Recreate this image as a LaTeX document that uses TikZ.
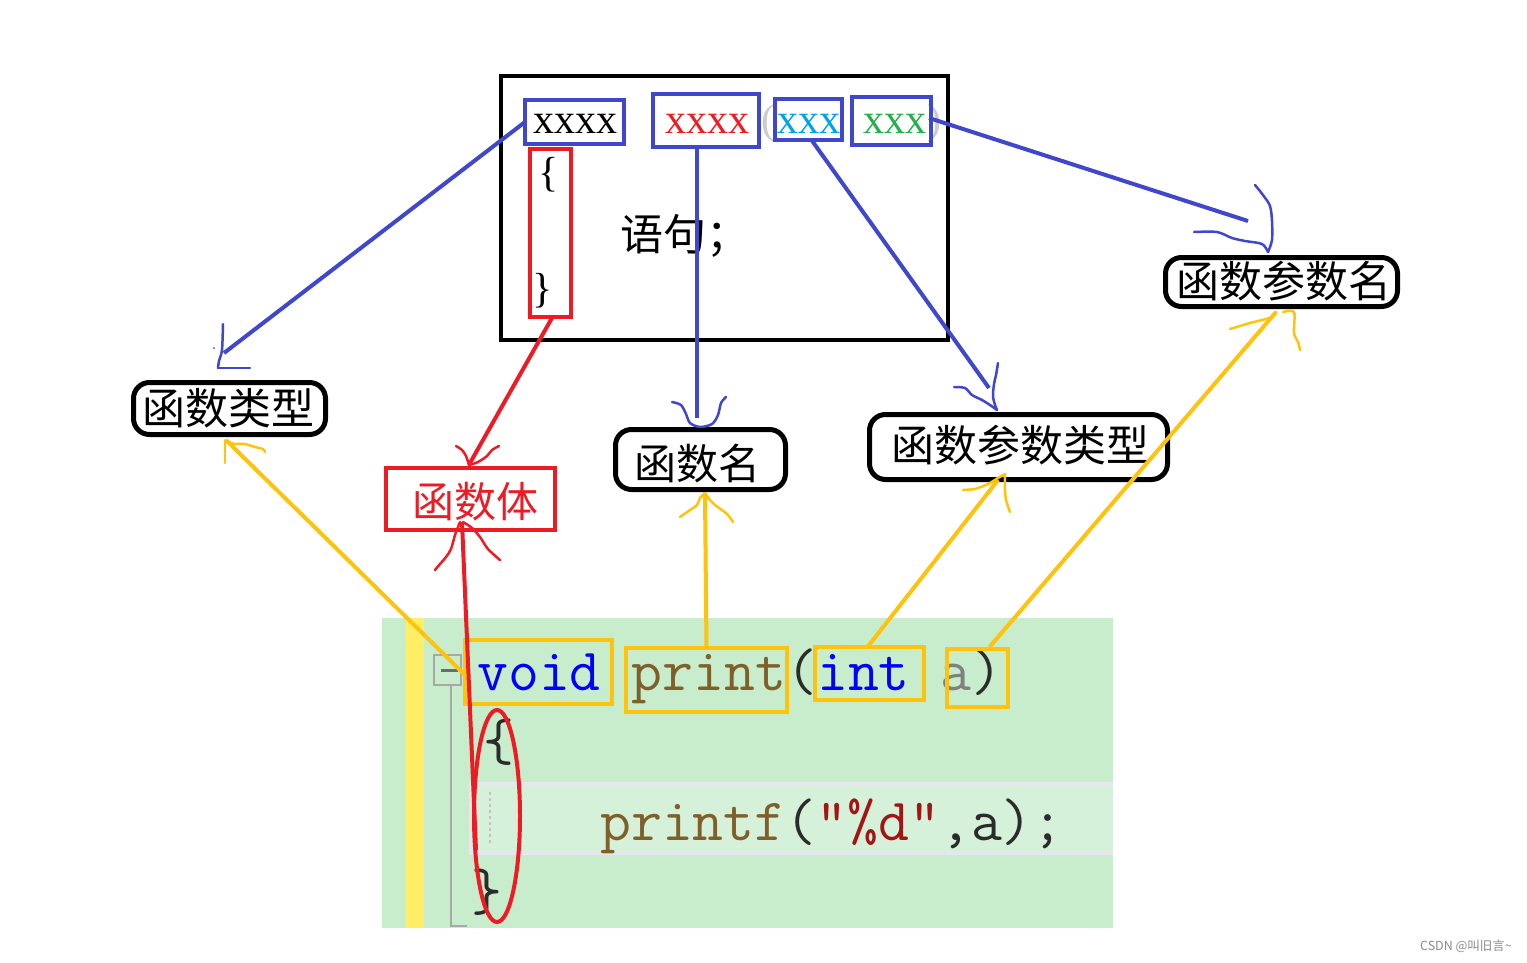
\documentclass[tikz,border=0pt]{standalone}
\usepackage{fontspec}
\setmainfont{Liberation Serif}
\newfontfamily\cjk{Noto Sans CJK SC}
\usetikzlibrary{shapes.geometric,calc}
\definecolor{cblue}{HTML}{3F48CC}
\definecolor{cred}{HTML}{ED1C24}
\definecolor{cyel}{HTML}{FFC30E}
\definecolor{ccyan}{HTML}{00A2E8}
\definecolor{cgreen}{HTML}{22B14C}
\definecolor{codebg}{HTML}{C7EDCC}
\definecolor{stripe}{HTML}{FFEE66}
\definecolor{band}{HTML}{D6F1D9}
\definecolor{bandedge}{HTML}{E6E6EE}
\definecolor{kwblue}{HTML}{0000FF}
\definecolor{fnbrown}{HTML}{7F5F2A}
\definecolor{agray}{HTML}{808080}
\definecolor{pdark}{HTML}{2B2B2B}
\definecolor{strred}{HTML}{A31515}
\definecolor{foldgray}{HTML}{A8A8A8}
\begin{document}
\begin{tikzpicture}[x=1pt,y=-1pt,
  bbox/.style={draw=cblue,line width=4pt,inner sep=0pt,outer sep=0pt},
  ybox/.style={draw=cyel,line width=4pt,inner sep=0pt,outer sep=0pt},
  lbl/.style={draw=black,line width=5pt,rounded corners=16pt,inner sep=0pt,outer sep=0pt},
  cjktxt/.style={font=\cjk\fontsize{43}{50}\selectfont,inner sep=0pt,anchor=base},
  xtxt/.style={font=\fontsize{42}{48}\selectfont,inner sep=0pt,anchor=base west},
  code/.style={font=\ttfamily\fontsize{60}{70}\selectfont,inner sep=0pt,anchor=base west},
  bline/.style={draw=cblue,line width=4pt},
  rline/.style={draw=cred,line width=4pt},
  yline/.style={draw=cyel,line width=4pt},
  bsq/.style={draw=cblue,line width=2.5pt,line cap=round,line join=round},
  rsq/.style={draw=cred,line width=2.5pt,line cap=round,line join=round},
  ysq/.style={draw=cyel,line width=2.5pt,line cap=round,line join=round}]
\useasboundingbox (0,0) rectangle (1527,962);
\fill[white] (0,0) rectangle (1527,962);

% ---------- top frame ----------
\node[draw=black,line width=4pt,inner sep=0pt,outer sep=0pt,minimum width=447pt,minimum height=264pt] (frame) at (724.5,208) {};
\node[xtxt,text=black!20] (lp) at (761,133) {(};
\node[xtxt,text=black!20] (rp) at (927,133) {)};
\node[bbox,minimum width=99pt,minimum height=44pt] (t1) at (574.5,122) {};
\node[bbox,minimum width=106pt,minimum height=53pt] (t2) at (706,120.5) {};
\node[bbox,minimum width=67pt,minimum height=41pt] (t3) at (808.5,119.5) {};
\node[bbox,minimum width=79pt,minimum height=48pt] (t4) at (891.5,121) {};
\node[xtxt,text=black] (t1x) at (533,133) {xxxx};
\node[xtxt,text=cred] (t2x) at (665,133) {xxxx};
\node[xtxt,text=ccyan] (t3x) at (777,133) {xxx};
\node[xtxt,text=cgreen] (t4x) at (863,133) {xxx};
\node[draw=cred,line width=4pt,inner sep=0pt,outer sep=0pt,minimum width=41pt,minimum height=168pt] (rb) at (550.5,233) {};
\node[xtxt,text=black] (ob) at (538,186) {\{};
\node[xtxt,text=black] (cb) at (532,302) {\}};
\node[cjktxt,anchor=base west] (stmt) at (620,250) {语句；};

% ---------- labels ----------
\node[lbl,minimum width=192pt,minimum height=52pt] (L1) at (229.5,408.5) {};
\node[cjktxt] (L1t) at (228,424) {函数类型};
\node[draw=cred,line width=4pt,inner sep=0pt,outer sep=0pt,minimum width=169pt,minimum height=62pt] (L2) at (470.5,499) {};
\node[cjktxt,text=cred,font=\cjk\fontsize{42}{50}\selectfont] (L2t) at (475.5,517) {函数体};
\node[lbl,minimum width=170pt,minimum height=60pt] (L3) at (700.5,459.5) {};
\node[cjktxt,font=\cjk\fontsize{42}{50}\selectfont] (L3t) at (697.5,479) {函数名};
\node[lbl,minimum width=298pt,minimum height=65pt] (L4) at (1018.5,447) {};
\node[cjktxt] (L4t) at (1020.5,461) {函数参数类型};
\node[lbl,minimum width=232pt,minimum height=49pt] (L5) at (1281.5,282) {};
\node[cjktxt] (L5t) at (1284,297) {函数参数名};

% ---------- code area ----------
\fill[codebg] (382,618) rectangle (1113,928);
\fill[stripe] (406,618) rectangle (424,928);
\fill[band] (469,782) rectangle (1113,855);
\draw[bandedge,line width=4pt] (1113,784) -- (471,784) -- (471,853) -- (1113,853);
\draw[foldgray!70,line width=2.5pt,dashed] (490,792) -- (490,845);
\node[draw=foldgray,line width=2.5pt,inner sep=0pt,outer sep=0pt,minimum width=27pt,minimum height=30pt] (fold) at (447.5,670) {};
\draw[pdark!70,line width=3pt] (441,670) -- (458,670);
\draw[foldgray,line width=2.5pt] (fold.south -| 451,0) -- (451,926) -- (467,926);
\node[code] (c1) at (477,690) {{\color{kwblue}void} {\color{fnbrown}print}{\color{pdark}(}{\color{kwblue}int} {\color{agray}a}{\color{pdark})}};
\node[code,text=pdark] (c2) at (483,760) {\{};
\node[code] (c3) at (600,840) {{\color{fnbrown}printf}{\color{pdark}(}{\color{strred}"\%d"}{\color{pdark},a);}};
\node[code,text=pdark] (c4) at (471,910) {\}};
\node[ybox,minimum width=147pt,minimum height=64pt] (yv) at (538.5,672) {};
\node[ybox,minimum width=161pt,minimum height=64pt] (yp) at (706.5,680) {};
\node[ybox,minimum width=109pt,minimum height=53pt] (yi) at (869.5,673.5) {};
\node[ybox,minimum width=61pt,minimum height=58pt] (ya) at (977.5,678) {};
\node[ellipse,draw=cred,line width=4pt,inner sep=0pt,outer sep=0pt,minimum width=46pt,minimum height=212pt] (ell) at (497,816) {};

% ---------- connector end points ----------
\coordinate (eA) at (224,353);
\coordinate (eB) at (697,418);
\coordinate (eC) at (989,388);
\coordinate (eD) at (1248,221);
\coordinate (eE) at (470,463);
\coordinate (eF) at (462,522);
\coordinate (eG) at (476,850);
\coordinate (yA) at (226,440);
\coordinate (yB) at (705,495);
\coordinate (yC) at (998,480);
\coordinate (yD) at (1276,312);

% ---------- blue connectors ----------
\draw[bline] (t1.west) -- (eA);
\draw[bline] (t2.south -| eB) -- (eB);
\draw[bline] ($(t3.south)+(3,0)$) -- (eC);
\draw[bline] ($(t4.east)+(-2,-3)$) -- (eD);
\draw[bsq] plot[smooth] coordinates {(223,324) (222,350) (219,361) (218,368)};
\draw[bsq] (218,368) -- (250,368);
\fill[cblue] (214,348) circle (1pt);
\draw[bsq] plot[smooth] coordinates {(672,402) (681,405) (686,414) (690,423) (700,427) (712,424) (718,415) (721,403) (726,397)};
\draw[bsq] plot[smooth] coordinates {(998,363) (996,375) (994,384) (993,396) (995,405) (997,410)};
\draw[bsq] plot[smooth] coordinates {(954,387) (965,388) (972,395) (982,400) (990,405) (997,410)};
\draw[bsq] plot[smooth] coordinates {(1255,185) (1263,195) (1270,206) (1272,221) (1272,240) (1268,252)};
\draw[bsq] plot[smooth] coordinates {(1194,232) (1217,232) (1232,238) (1245,241) (1262,244) (1268,252)};

% ---------- red connectors ----------
\draw[rline] ($(rb.south)+(2,0)$) -- (eE);
\draw[rsq] plot[smooth] coordinates {(456,446) (462,450) (466,456) (469,465)};
\draw[rsq] plot[smooth] coordinates {(469,465) (478,462) (487,456) (492,450) (499,446)};
\draw[rline] (eG) -- (eF);
\draw[rsq] plot[smooth] coordinates {(460,522) (455,535) (451,549) (446,557) (440,564) (435,570)};
\draw[rsq] plot[smooth] coordinates {(463,522) (472,528) (480,537) (488,549) (500,560)};

% ---------- yellow connectors ----------
\draw[yline] ($(yv.west)+(0,3)$) -- (yA);
\draw[yline] (yp.north) -- (yB);
\draw[yline] ($(yi.north)+(-2,0)$) -- (yC);
\draw[yline] ($(ya.north)+(12,-2)$) -- (yD);
\draw[ysq] (225,463) -- (225,440);
\draw[ysq] plot[smooth] coordinates {(226,442) (236,444) (245,444) (255,447) (263,449) (265,452)};
\draw[ysq] plot[smooth] coordinates {(680,517) (690,510) (697,505) (700,498) (705,493)};
\draw[ysq] plot[smooth] coordinates {(705,493) (710,500) (715,505) (722,510) (728,515) (733,522)};
\draw[ysq] plot[smooth] coordinates {(963,490) (975,489) (981,487) (990,483) (998,478) (1005,474)};
\draw[ysq] plot[smooth] coordinates {(1005,474) (1005,490) (1006,500) (1010,512)};
\draw[ysq] plot[smooth] coordinates {(1230,329) (1250,323) (1262,320) (1272,317) (1276,312)};
\draw[ysq] plot[smooth] coordinates {(1283,312) (1294,312) (1294,333) (1298,342) (1300,350)};

% ---------- watermark ----------
\node[font=\cjk\fontsize{12.5}{14}\selectfont,text=black!45,inner sep=0pt] (wm) at (1466,946) {CSDN @叫旧言\textasciitilde};
\end{tikzpicture}
\end{document}
